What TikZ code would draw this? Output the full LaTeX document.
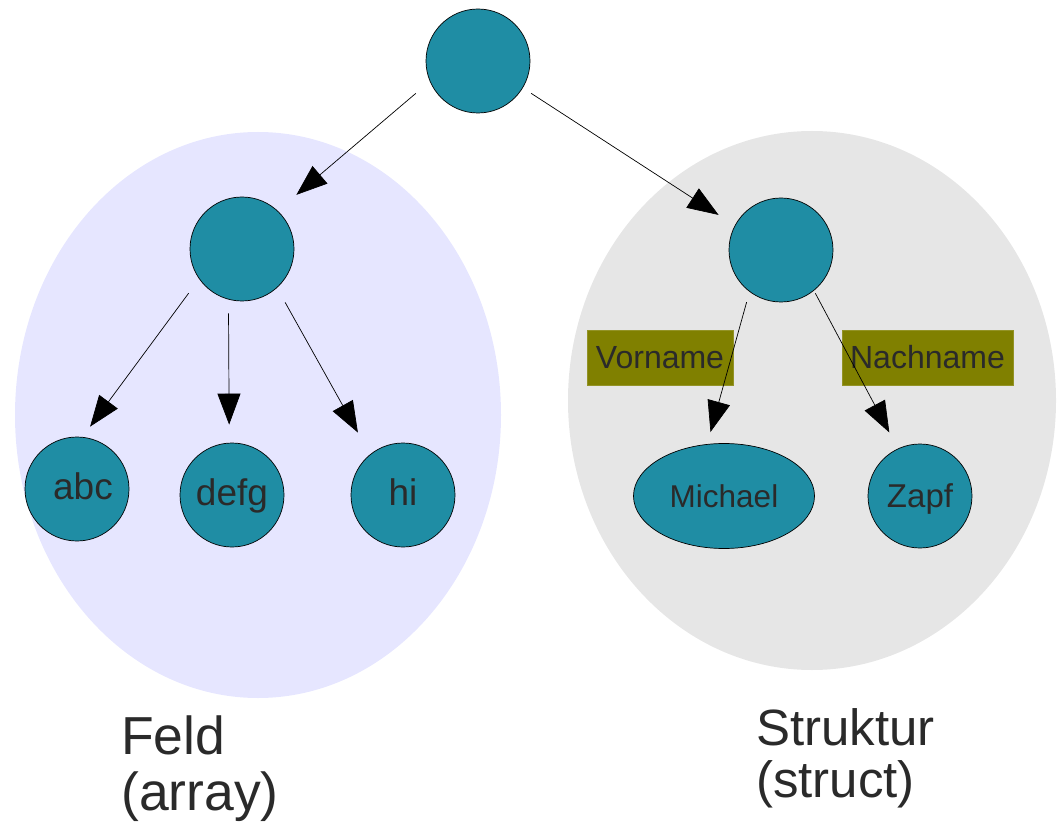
\documentclass[tikz,border=0pt]{standalone}
\usepackage{fontspec}
\setmainfont{Liberation Sans}
\usetikzlibrary{arrows.meta,shapes.geometric}
\definecolor{teal}{RGB}{31,141,164}
\definecolor{ink}{RGB}{42,42,42}
\definecolor{feldbg}{RGB}{230,230,255}
\definecolor{structbg}{RGB}{230,230,230}
\definecolor{olive}{RGB}{128,128,0}
\tikzset{
  area/.style={ellipse, inner sep=0pt, draw=none},
  knot/.style={circle, fill=teal, draw=black, line width=0.7pt, minimum size=104pt,
    inner sep=0pt, text=ink},
  leaf/.style={knot, font=\fontsize{37pt}{37pt}\selectfont, text height=20pt, text depth=0pt},
  sleaf/.style={knot, font=\fontsize{32pt}{32pt}\selectfont, text height=23pt, text depth=0pt},
  tag/.style={rectangle, fill=olive, draw=olive!85!white, line width=0.5pt, inner sep=0pt,
    minimum height=55pt, text=ink, font=\fontsize{32pt}{32pt}\selectfont},
  caption/.style={align=left, inner sep=0pt, text=ink},
  link/.style={line width=0.7pt, -{Triangle[length=31pt,width=23pt]}}
}
\begin{document}
\begin{tikzpicture}[x=1pt,y=-1pt]
\useasboundingbox (0,0) rectangle (1060,826);
% background regions
\node[area, fill=feldbg, minimum width=486pt, minimum height=566pt] (feld) at (258,415) {};
\node[area, fill=structbg, minimum width=488pt, minimum height=539pt] (struct) at (812,400.5) {};

% tree nodes
\node[knot] (root) at (478,61) {};
\node[knot] (arr) at (242,249) {};
\node[knot] (rec) at (781,250) {};
\node[leaf] (abc) at (77,489) {\hspace*{12pt}abc};
\node[leaf] (defg) at (232,495) {defg};
\node[leaf] (hi) at (403,495) {hi};
\node[sleaf, ellipse, minimum width=181pt, minimum height=105pt,
  font=\fontsize{31.5pt}{31.5pt}\selectfont] (michael) at (724,496) {Michael};
\node[sleaf, font=\fontsize{33pt}{33pt}\selectfont] (zapf) at (920,496) {Zapf};

% field labels
\node[tag, minimum width=146pt] (vorname) at (660,357.5) {Vorname};
\node[tag, minimum width=171pt] (nachname) at (927.5,357.5) {Nachname};

% connectors
\draw[link, shorten <=18.4pt, shorten >=24.5pt] (root.203) -- (arr.47);
\draw[link, shorten <=9.9pt, shorten >=19.3pt] (root.329) -- (rec.152);
\draw[link, shorten <=17.6pt, shorten >=12.8pt] (arr.215) -- (abc.84);
\draw[link, shorten <=13.7pt, shorten >=18.1pt] (arr.255.5) -- (defg.93.3);
\draw[link, shorten <=16.6pt, shorten >=24.9pt] (arr.312) -- (hi.129.2);
\draw[link, shorten <=10.7pt, shorten >=12.5pt] (rec.233.3) -- (michael.108.8);
\draw[link, shorten <=2.9pt, shorten >=18.2pt] (rec.309) -- (zapf.115.6);

% captions
\node[caption, anchor=north west, font=\fontsize{53.5pt}{56pt}\selectfont] (feldcap) at (121,716) {Feld\\(array)};
\node[caption, anchor=north west, font=\fontsize{51pt}{52pt}\selectfont] (structcap) at (756,708) {Struktur\\(struct)};
\end{tikzpicture}
\end{document}
